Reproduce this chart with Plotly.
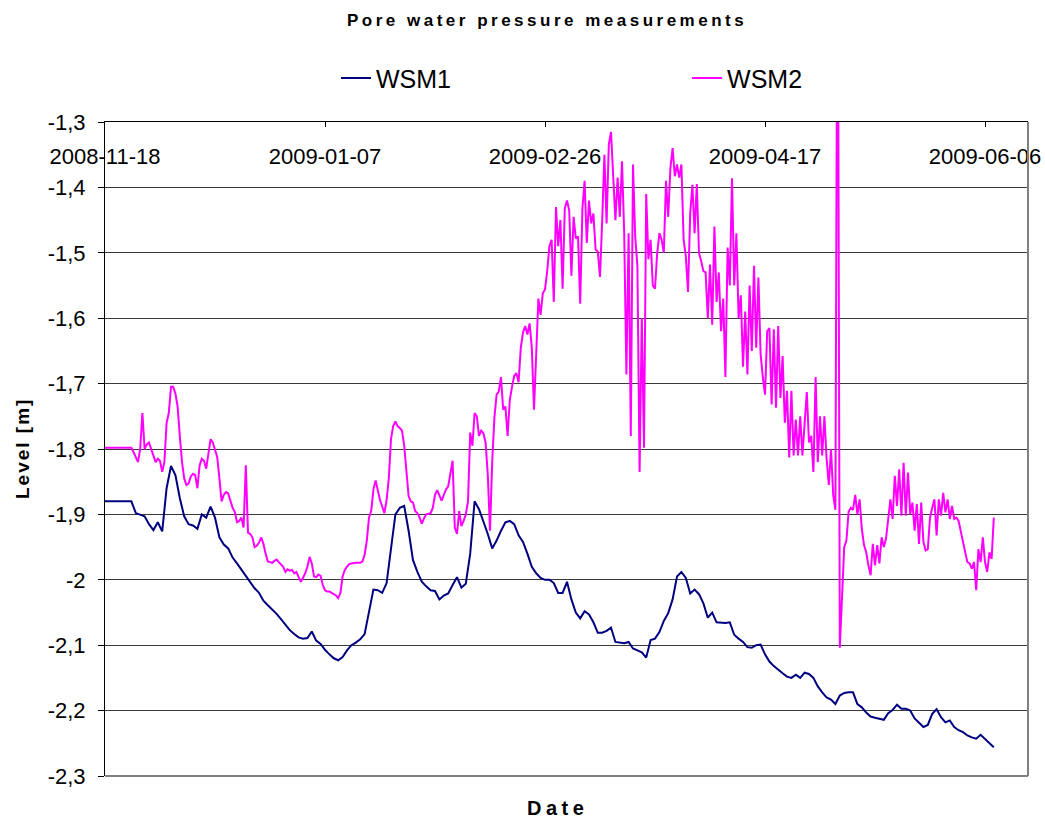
import pandas as pd
import plotly.graph_objects as go

# --- data ---
START_DATE = "2008-11-18"

# WSM1, one reading per day from START_DATE [m]
wsm1_level = [
    -1.88, -1.88, -1.88, -1.88, -1.88, -1.88, -1.88, -1.898, -1.90, -1.903,
    -1.915, -1.924, -1.912, -1.926, -1.86, -1.826, -1.84, -1.875, -1.903, -1.915,
    -1.917, -1.922, -1.90, -1.905, -1.888, -1.905, -1.935, -1.946, -1.952, -1.966,
    -1.975, -1.985, -1.995, -2.005, -2.013, -2.02, -2.032, -2.039, -2.045, -2.052,
    -2.06, -2.068, -2.077, -2.083, -2.088, -2.09, -2.089, -2.079, -2.093, -2.098,
    -2.107, -2.114, -2.12, -2.123, -2.118, -2.108, -2.1, -2.096, -2.091, -2.083,
    -2.05, -2.015, -2.016, -2.02, -2.005, -1.955, -1.9, -1.89, -1.887, -1.925,
    -1.97, -1.988, -2.003, -2.01, -2.016, -2.017, -2.03, -2.024, -2.021, -2.008,
    -1.996, -2.012, -2.006, -1.96, -1.88, -1.892, -1.91, -1.93, -1.952, -1.94,
    -1.925, -1.912, -1.91, -1.915, -1.932, -1.942, -1.96, -1.98, -1.99, -1.997,
    -2.0, -2.0, -2.005, -2.02, -2.02, -2.003, -2.03, -2.05, -2.059, -2.048,
    -2.053, -2.065, -2.081, -2.081, -2.078, -2.073, -2.095, -2.096, -2.097, -2.095,
    -2.105, -2.108, -2.111, -2.119, -2.092, -2.09, -2.08, -2.063, -2.051, -2.03,
    -1.995, -1.988, -1.997, -2.021, -2.015, -2.022, -2.036, -2.058, -2.05, -2.065,
    -2.066, -2.066, -2.065, -2.084, -2.09, -2.095, -2.103, -2.104, -2.1, -2.099,
    -2.114, -2.125, -2.132, -2.138, -2.143, -2.148, -2.15, -2.145, -2.15, -2.142,
    -2.144, -2.15, -2.163, -2.172, -2.18, -2.183, -2.19, -2.177, -2.173, -2.172,
    -2.172, -2.19, -2.195, -2.203, -2.209, -2.211, -2.213, -2.214, -2.204, -2.199,
    -2.191, -2.197, -2.197, -2.2, -2.212, -2.218, -2.225, -2.222, -2.205, -2.198,
    -2.21, -2.218, -2.215, -2.225, -2.23, -2.233, -2.238, -2.241, -2.243, -2.237,
    -2.243, -2.25, -2.256,
]

# WSM2, two readings per day from START_DATE [m]
wsm2_level = [
    -1.798, -1.798, -1.798, -1.798, -1.798, -1.798, -1.798, -1.798, -1.798, -1.798,
    -1.798, -1.798, -1.798, -1.805, -1.812, -1.82, -1.80, -1.745, -1.80, -1.793,
    -1.79, -1.80, -1.813, -1.82, -1.815, -1.818, -1.835, -1.82, -1.76, -1.745,
    -1.705, -1.705, -1.715, -1.735, -1.78, -1.82, -1.845, -1.855, -1.853, -1.842,
    -1.838, -1.84, -1.86, -1.825, -1.815, -1.818, -1.83, -1.81, -1.785, -1.79,
    -1.80, -1.812, -1.845, -1.88, -1.87, -1.866, -1.868, -1.88, -1.89, -1.896,
    -1.912, -1.91, -1.905, -1.92, -1.825, -1.928, -1.93, -1.935, -1.95, -1.948,
    -1.943, -1.935, -1.945, -1.96, -1.972, -1.973, -1.974, -1.971, -1.969, -1.973,
    -1.977, -1.98, -1.988, -1.984, -1.986, -1.985, -1.99, -1.988, -1.996, -2.003,
    -1.997, -1.99, -1.98, -1.965, -1.975, -1.995, -1.996, -1.992, -1.994, -2.008,
    -2.016, -2.018, -2.018, -2.02, -2.021, -2.024, -2.028, -2.02, -1.995, -1.985,
    -1.98, -1.976, -1.975, -1.974, -1.974, -1.974, -1.974, -1.972, -1.962, -1.94,
    -1.905, -1.895, -1.862, -1.848, -1.865, -1.878, -1.888, -1.898, -1.878, -1.845,
    -1.785, -1.765, -1.758, -1.765, -1.768, -1.772, -1.795, -1.83, -1.872, -1.88,
    -1.882, -1.895, -1.898, -1.905, -1.914, -1.906, -1.90, -1.899, -1.898, -1.89,
    -1.87, -1.863, -1.872, -1.879, -1.87, -1.862, -1.857, -1.835, -1.818, -1.92,
    -1.93, -1.895, -1.918, -1.91, -1.90, -1.88, -1.775, -1.795, -1.745, -1.75,
    -1.78, -1.772, -1.776, -1.79, -1.84, -1.925, -1.82, -1.752, -1.717, -1.712,
    -1.69, -1.74, -1.735, -1.78, -1.725, -1.705, -1.688, -1.684, -1.698, -1.645,
    -1.622, -1.612, -1.625, -1.608, -1.645, -1.74, -1.64, -1.57, -1.595, -1.562,
    -1.556, -1.528, -1.49, -1.48, -1.575, -1.43, -1.49, -1.45, -1.555, -1.432,
    -1.42, -1.435, -1.535, -1.445, -1.478, -1.475, -1.578, -1.433, -1.39, -1.485,
    -1.42, -1.455, -1.44, -1.495, -1.498, -1.537, -1.45, -1.35, -1.455, -1.335,
    -1.315, -1.375, -1.45, -1.385, -1.445, -1.36, -1.47, -1.686, -1.47, -1.78,
    -1.365, -1.475, -1.52, -1.835, -1.6, -1.798, -1.41, -1.51, -1.48, -1.55,
    -1.555, -1.5, -1.47, -1.48, -1.5, -1.39, -1.445, -1.37, -1.34, -1.383,
    -1.365, -1.385, -1.365, -1.48, -1.505, -1.56, -1.44, -1.396, -1.47, -1.395,
    -1.5, -1.513, -1.528, -1.53, -1.60, -1.518, -1.61, -1.46, -1.575, -1.53,
    -1.62, -1.57, -1.69, -1.492, -1.55, -1.386, -1.55, -1.47, -1.60, -1.565,
    -1.674, -1.59, -1.686, -1.55, -1.65, -1.52, -1.645, -1.538, -1.655, -1.69,
    -1.717, -1.62, -1.615, -1.732, -1.617, -1.737, -1.612, -1.722, -1.658, -1.76,
    -1.711, -1.813, -1.711, -1.81, -1.755, -1.81, -1.75, -1.81, -1.765, -1.713,
    -1.79, -1.78, -1.835, -1.69, -1.82, -1.75, -1.81, -1.75, -1.815, -1.855,
    -1.80, -1.87, -1.893, -0.9, -2.104, -2.03, -1.95, -1.94, -1.896, -1.89,
    -1.893, -1.87, -1.90, -1.877, -1.922, -1.947, -1.958, -1.978, -1.993, -1.945,
    -1.978, -1.947, -1.975, -1.935, -1.95, -1.937, -1.902, -1.877, -1.907, -1.841,
    -1.887, -1.831, -1.902, -1.821, -1.902, -1.836, -1.90, -1.882, -1.925, -1.884,
    -1.945, -1.882, -1.942, -1.955, -1.953, -1.905, -1.89, -1.877, -1.932, -1.877,
    -1.902, -1.867, -1.897, -1.877, -1.907, -1.887, -1.907, -1.905, -1.91, -1.927,
    -1.945, -1.958, -1.973, -1.975, -1.983, -1.973, -2.016, -1.953, -1.973, -1.935,
    -1.973, -1.988, -1.958, -1.968, -1.905,
]

x_tick_dates = ["2008-11-18", "2009-01-07", "2009-02-26", "2009-04-17", "2009-06-06"]
x_range = ["2008-11-18", "2009-06-15 18:30"]

y_tick_values = [-2.3, -2.2, -2.1, -2.0, -1.9, -1.8, -1.7, -1.6, -1.5, -1.4, -1.3]
y_tick_labels = ["-2,3", "-2,2", "-2,1", "-2", "-1,9", "-1,8", "-1,7", "-1,6", "-1,5", "-1,4", "-1,3"]

wsm1_dates = pd.date_range(START_DATE, periods=len(wsm1_level), freq="D")
wsm2_dates = pd.date_range(START_DATE, periods=len(wsm2_level), freq="12h")

FONT = "Liberation Sans, Arial, sans-serif"
W, H = 1045, 818

fig = go.Figure()

fig.add_trace(go.Scatter(
    x=wsm1_dates, y=wsm1_level, mode="lines", name="WSM1",
    line=dict(color="#000080", width=2), legend="legend", showlegend=True,
))
fig.add_trace(go.Scatter(
    x=wsm2_dates, y=wsm2_level, mode="lines", name="WSM2",
    line=dict(color="#FF00FF", width=2), legend="legend2", showlegend=True,
))

legend_style = dict(
    orientation="h", xanchor="left", y=1.067, yanchor="middle",
    font=dict(size=25, color="black"), bgcolor="rgba(0,0,0,0)",
)

fig.update_layout(
    width=W, height=H,
    margin=dict(l=105, r=17, t=122, b=42, autoexpand=False),
    paper_bgcolor="white", plot_bgcolor="white",
    font=dict(family=FONT, color="black"),
    showlegend=True,
    title=dict(
        text='<b><span style="letter-spacing:3.5px">Pore water pressure measurements</span></b>',
        font=dict(size=17, family=FONT, color="black"),
        x=0.479, xref="paper", xanchor="center",
        y=1 - 20 / H, yref="container", yanchor="middle",
    ),
    legend=dict(x=0.2503, **legend_style),
    legend2=dict(x=0.6306, **legend_style),
    xaxis=dict(
        type="date", range=x_range, side="top", automargin=False,
        tickvals=x_tick_dates, ticktext=x_tick_dates,
        ticks="inside", ticklen=5, tickcolor="black",
        ticklabelposition="inside", ticklabeloverflow="allow",
        ticklabelstandoff=23,
        tickfont=dict(size=22, color="black"),
        showline=True, linecolor="black", linewidth=1,
        showgrid=False, zeroline=False,
    ),
    yaxis=dict(
        range=[-2.3, -1.3], automargin=False,
        tickvals=y_tick_values, ticktext=y_tick_labels,
        ticks="outside", ticklen=6, tickcolor="black",
        ticklabelstandoff=8,
        tickfont=dict(size=22, color="black"),
        showline=True, linecolor="black", linewidth=1,
        showgrid=True, gridcolor="#3a3a3a", gridwidth=1,
        zeroline=False,
    ),
    annotations=[
        dict(text='<b><span style="letter-spacing:4.5px">Date</span></b>',
             x=0.49, y=-32 / 654, xref="paper", yref="paper",
             xanchor="center", yanchor="middle", showarrow=False,
             font=dict(size=20, color="black")),
        dict(text='<b><span style="letter-spacing:2px">Level [m]</span></b>',
             x=-83 / 923, y=0.5, xref="paper", yref="paper",
             xanchor="center", yanchor="middle", showarrow=False, textangle=-90,
             font=dict(size=19, color="black")),
    ],
    shapes=[
        dict(type="line", xref="paper", yref="paper", x0=1, x1=1, y0=0, y1=1,
             line=dict(color="#808080", width=2), layer="above"),
        dict(type="line", xref="paper", yref="paper", x0=0, x1=1, y0=0, y1=0,
             line=dict(color="#808080", width=2), layer="above"),
    ],
)

# drop the page's default body margin so the figure sits at the window's corner
fig.write_html(
    "out.html",
    config={"displayModeBar": False},
    post_script="document.body.style.margin='0px';document.body.style.overflow='hidden';",
)
